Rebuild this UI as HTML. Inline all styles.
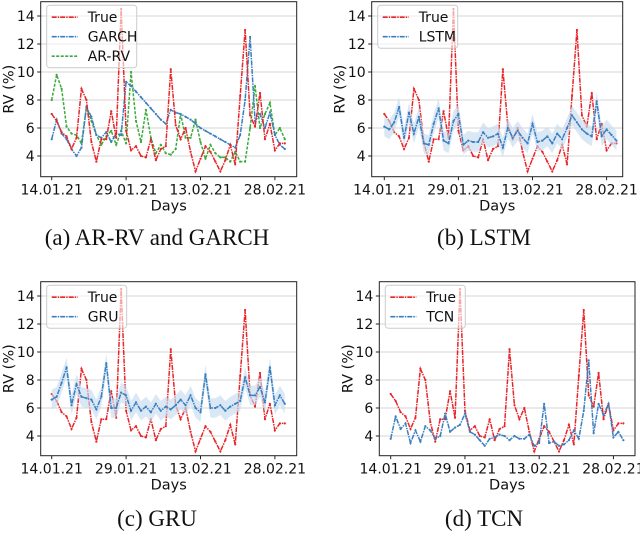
<!DOCTYPE html>
<html><head><meta charset="utf-8"><style>
body{margin:0;background:#fff;width:640px;height:533px;overflow:hidden}
svg text{font-family:"DejaVu Sans","Liberation Sans",sans-serif}
.cap{font-family:"Liberation Serif",serif;font-size:23px;fill:#111}
</style></head><body>
<svg id="fig" width="640" height="533" viewBox="0 0 640 533" xmlns="http://www.w3.org/2000/svg">
<text class="cap" x="157" y="245" text-anchor="middle">(a) AR-RV and GARCH</text>
<text class="cap" x="484" y="245" text-anchor="middle">(b) LSTM</text>
<text class="cap" x="157" y="526" text-anchor="middle">(c) GRU</text>
<text class="cap" x="484" y="526" text-anchor="middle">(d) TCN</text>
</svg>
<script>
const trueRV=[7.0,6.5,5.7,5.4,4.5,5.3,8.8,8.0,5.0,3.6,5.2,5.2,7.2,5.3,14.5,5.8,4.4,4.7,4.0,3.9,5.2,3.7,4.5,4.7,10.2,6.2,5.2,6.0,4.3,2.9,3.8,4.7,4.3,3.6,2.9,3.7,4.8,3.4,8.3,13.0,6.9,6.1,8.5,5.2,6.3,4.4,4.9,4.9];
const garch=[5.2,6.6,5.6,5.2,4.5,4.0,4.6,7.5,6.8,5.5,5.3,5.7,5.0,5.6,5.5,9.3,9.0,8.6,8.2,7.8,7.4,7.0,6.6,6.3,7.3,7.1,7.0,6.8,6.6,6.3,6.0,5.8,5.6,5.4,5.2,5.0,4.8,4.6,5.5,8.0,12.5,6.5,7.0,6.0,7.1,5.5,4.8,4.5];
const arrv=[8.0,9.8,8.8,6.1,5.6,5.5,4.9,7.5,6.5,5.5,4.8,5.4,5.8,4.8,5.8,4.9,10.0,6.5,5.0,7.3,5.3,4.2,4.8,4.2,4.1,4.5,7.0,5.3,5.3,6.6,5.0,3.8,4.8,4.2,3.9,3.9,3.6,4.3,3.6,3.6,6.0,9.0,6.0,7.0,7.8,5.5,6.0,5.2];
const lstm=[6.1,5.9,6.4,7.5,5.3,7.1,5.6,6.8,4.9,4.8,6.3,7.4,5.1,4.9,6.5,7.0,4.8,5.1,5.0,5.0,5.7,5.3,5.4,5.6,4.6,6.0,5.3,5.8,5.3,4.9,6.3,5.0,5.1,5.4,4.9,5.6,5.2,6.0,6.9,6.4,5.9,5.6,5.4,7.9,5.4,5.9,5.5,5.1];
const gru=[6.6,6.8,7.8,8.9,6.2,7.7,6.8,6.7,6.6,5.9,6.8,9.2,6.0,6.0,7.1,6.9,5.8,6.4,5.8,6.1,5.7,6.3,5.8,6.1,5.9,6.2,6.6,6.2,6.9,6.0,5.7,8.4,6.0,6.0,6.2,5.8,6.1,6.3,6.5,8.2,6.9,6.9,7.5,6.4,8.9,6.2,6.9,6.3];
const tcn=[3.8,5.4,4.5,4.9,3.5,4.4,3.6,4.7,4.4,3.8,4.0,5.6,4.3,4.6,4.8,5.6,4.3,4.1,3.7,3.3,3.8,3.9,4.1,4.0,3.7,4.0,3.8,3.8,4.1,3.3,3.5,6.3,3.5,3.6,3.3,3.4,3.7,4.4,3.8,5.8,9.4,4.2,6.3,5.5,6.3,3.9,4.3,3.7];
const yTicks=[4,6,8,10,12,14];
const xTickDays=[0,15,30,45];
const xTickLabels=["14.01.21","29.01.21","13.02.21","28.02.21"];

const NS="http://www.w3.org/2000/svg";
const svg=document.getElementById('fig');
function mk(tag,attrs,parent){const e=document.createElementNS(NS,tag);for(const k in attrs)e.setAttribute(k,attrs[k]);(parent||svg).appendChild(e);return e;}
const RED="#e8262a",BLUE="#3a7fc0",GREEN="#3caa3c";
const DD='5 1 1.5 1';

function panel(id,L,R,T,B,day0,pxDay,series,legend){
  const g=mk('g',{});
  
  
  const ys=v=>T+14.3+(14-v)*14;
  const xs=d=>day0+d*pxDay;
  yTicks.forEach(t=>{
    const l=mk('line',{x1:L,x2:R,y1:ys(t),y2:ys(t),stroke:'#d4d4d4','stroke-width':1},g);
    
    
    mk('line',{x1:L-3.5,x2:L,y1:ys(t),y2:ys(t),stroke:'#222'},g);
    const tx=mk('text',{x:L-6,y:ys(t)+5,'text-anchor':'end','font-size':14,fill:'#111'},g);
    tx.textContent=t;
    
    
  });
  xTickDays.forEach((d,i)=>{
    mk('line',{x1:xs(d),x2:xs(d),y1:B,y2:B+3.5,stroke:'#222'},g);
    const tx=mk('text',{x:xs(d),y:B+18,'text-anchor':'middle','font-size':14,fill:'#111'},g);
    tx.textContent=xTickLabels[i];
    
    
  });
  const xl=mk('text',{x:(L+R)/2,y:B+34,'text-anchor':'middle','font-size':14.5,fill:'#111'},g);
  xl.textContent='Days';
  
  
  const yl=mk('text',{x:0,y:0,'text-anchor':'middle','font-size':14.5,fill:'#111',transform:`translate(${L-27},${(T+B)/2}) rotate(-90)`},g);
  yl.textContent='RV (%)';
  
  
  const clipId='clip'+id;
  const cp=mk('clipPath',{id:clipId},g);mk('rect',{x:L,y:T,width:R-L,height:B-T},cp);
  const pg=mk('g',{'clip-path':`url(#${clipId})`},g);
  series.forEach(s=>{
    if(s.band){
      const up=s.data.map((v,i)=>`${xs(i)},${ys(v+0.7)}`);
      const dn=s.data.map((v,i)=>`${xs(i)},${ys(v-0.7)}`).reverse();
      const b=mk('polygon',{points:up.concat(dn).join(' '),fill:'#c6dbef',opacity:0.65},pg);
      
      
    }
    const p=mk('polyline',{points:s.data.map((v,i)=>`${xs(i)},${ys(v)}`).join(' '),fill:'none',stroke:s.color,'stroke-width':1.5,'stroke-dasharray':s.dash||'none'},pg);
    
    
    s.data.forEach((v,i)=>{
      const c=mk('circle',{cx:xs(i),cy:ys(v),r:1.1,fill:s.color},pg);
      
      
    });
  });
  mk('rect',{x:L,y:T,width:R-L,height:B-T,fill:'none',stroke:'#222','stroke-width':1},g);
  const lg=mk('g',{},g);
  
  
  const lx=L+6,ly=T+3.5,lh=legend.length*19.5+4,lw=legend.length>2?90:80;
  mk('rect',{x:lx,y:ly,width:lw,height:lh,rx:3,fill:'#fff','fill-opacity':0.6,stroke:'#ccc'},lg);
  legend.forEach((s,i)=>{
    const yy=ly+12+i*19.5;
    mk('line',{x1:lx+5,x2:lx+31,y1:yy,y2:yy,stroke:s.color,'stroke-width':1.6,'stroke-dasharray':s.dash},lg);
    const t=mk('text',{x:lx+41,y:yy+5,'font-size':14,fill:'#111'},lg);
    t.textContent=s.label;
    
    
  });
}
const T={name:'true',label:'True',data:trueRV,color:RED,dash:DD};
panel('a',40.7,296.7,1.7,176.7,51.7,4.96,[{name:'arrv',label:'AR-RV',data:arrv,color:GREEN,dash:'3 1.5'},{name:'garch',label:'GARCH',data:garch,color:BLUE,dash:DD},T],[T,{label:'GARCH',color:BLUE,dash:DD},{label:'AR-RV',color:GREEN,dash:'3 1.5'}]);
panel('b',371.7,622.7,1.7,176.7,384.3,4.94,[T,{name:'lstm',label:'LSTM',data:lstm,color:BLUE,dash:DD,band:1}],[T,{label:'LSTM',color:BLUE,dash:DD}]);
panel('c',40.7,296.7,281.7,455.7,51.7,4.96,[T,{name:'gru',label:'GRU',data:gru,color:BLUE,dash:DD,band:1}],[T,{label:'GRU',color:BLUE,dash:DD}]);
panel('d',379.3,635,281.7,455.7,390.7,4.95,[T,{name:'tcn',label:'TCN',data:tcn,color:BLUE,dash:DD}],[T,{label:'TCN',color:BLUE,dash:DD}]);
</script>
</body></html>
